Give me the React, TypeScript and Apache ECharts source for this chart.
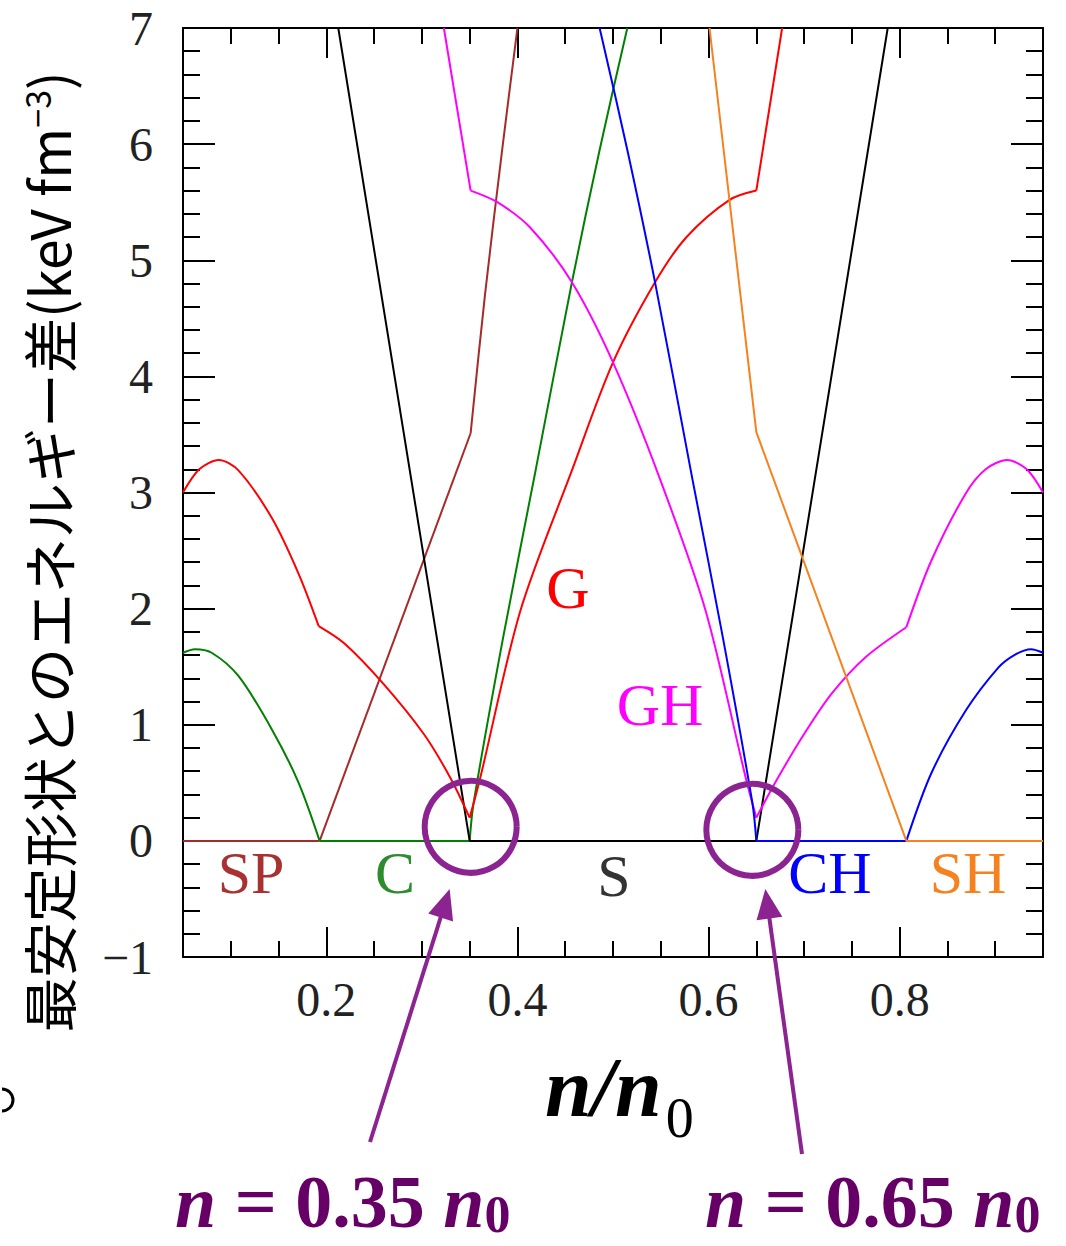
import React, { useEffect, useRef } from "react";
import * as echarts from "echarts";

// ---- data (n/n0, energy difference keV fm^-3) ----
const SP_flat = [[0.05, 0], [0.193, 0]];
const SP_rise = [[0.193, 0], [0.351, 3.51]];
const SP_steep = [[0.351, 3.51], [0.366, 4.7], [0.384, 5.95], [0.4, 7.0]];

const C_left = [[0.05, 1.62], [0.0625, 1.65], [0.08, 1.62], [0.108, 1.42], [0.143, 0.96], [0.171, 0.5], [0.193, 0]];
const C_flat = [[0.193, 0], [0.35, 0]];
const C_right = [[0.35, 0], [0.354, 0.32], [0.385, 1.75], [0.419, 3.19], [0.457, 4.81], [0.486, 5.95], [0.515, 7.0]];

const S_line = [[0.2125, 7.0], [0.35, 0], [0.65, 0], [0.7875, 7.0]];

const G_1 = [[0.05, 3.0], [0.067, 3.2], [0.0875, 3.28], [0.108, 3.19], [0.143, 2.78], [0.171, 2.3], [0.192, 1.85]];
const G_2 = [[0.192, 1.85], [0.219, 1.7], [0.26, 1.35], [0.302, 0.92], [0.33, 0.54], [0.35, 0.2]];
const G_3 = [[0.35, 0.2], [0.361, 0.54], [0.403, 1.98], [0.457, 3.19], [0.5, 4.12], [0.544, 4.81], [0.577, 5.2], [0.622, 5.52], [0.65, 5.6]];
const G_4 = [[0.65, 5.6], [0.677, 7.0]];

const GH_1 = [[0.323, 7.0], [0.351, 5.6]];
const GH_2 = [[0.351, 5.6], [0.379, 5.5], [0.4135, 5.28], [0.457, 4.81], [0.5, 4.12], [0.549, 3.12], [0.597, 1.98], [0.639, 0.54], [0.65, 0.2]];
const GH_3 = [[0.65, 0.2], [0.671, 0.52], [0.7, 0.92], [0.729, 1.27], [0.764, 1.58], [0.807, 1.84]];
const GH_4 = [[0.807, 1.84], [0.833, 2.41], [0.869, 2.99], [0.89, 3.2], [0.9125, 3.28], [0.933, 3.2], [0.95, 3.0]];

const CH_left = [[0.486, 7.0], [0.515, 5.95], [0.544, 4.81], [0.583, 3.12], [0.615, 1.75], [0.646, 0.32], [0.65, 0]];
const CH_flat = [[0.65, 0], [0.807, 0]];
const CH_right = [[0.807, 0], [0.833, 0.58], [0.869, 1.12], [0.903, 1.49], [0.92, 1.6], [0.9375, 1.65], [0.95, 1.62]];

const SH_line = [[0.601, 7.0], [0.65, 3.52], [0.807, 0], [0.95, 0]];

const X_MIN = 0.05;
const X_MAX = 0.95;
const Y_MIN = -1;
const Y_MAX = 7;

const COL = {
  SP: "#a52a2a",
  C: "#008000",
  S: "#000000",
  G: "#ff0000",
  GH: "#ff00ff",
  CH: "#0000ff",
  SH: "#f5821f",
};

const PURPLE = "#8b2391";
const PURPLE_TEXT = "#660066";

function seg(name: string, data: number[][], color: string, smooth: boolean) {
  return {
    name,
    type: "line",
    data,
    showSymbol: false,
    symbol: "none",
    smooth: smooth ? 0.3 : false,
    lineStyle: { color, width: 2 },
    silent: true,
    z: 3,
  };
}

const tickLabel = {
  fontFamily: "Liberation Serif",
  fontSize: 48,
  color: "#222",
};

function xAxisDef(pos: "bottom" | "top") {
  return {
    type: "value",
    position: pos,
    min: X_MIN,
    max: X_MAX,
    splitNumber: 5,
    axisLine: { show: true, onZero: false, lineStyle: { color: "#000", width: 2 } },
    axisTick: { show: true, inside: true, length: 30, lineStyle: { color: "#000", width: 2 } },
    minorTick: { show: true, splitNumber: 4, length: 16, lineStyle: { color: "#000", width: 2 } },
    splitLine: { show: false },
    minorSplitLine: { show: false },
    axisLabel: {
      show: pos === "bottom",
      showMinLabel: false,
      showMaxLabel: false,
      margin: 18,
      formatter: (v: number) => v.toFixed(1),
      ...tickLabel,
    },
  };
}

function yAxisDef(pos: "left" | "right") {
  return {
    type: "value",
    position: pos,
    min: Y_MIN,
    max: Y_MAX,
    interval: 1,
    axisLine: { show: true, onZero: false, lineStyle: { color: "#000", width: 2 } },
    axisTick: { show: true, inside: true, length: 32, lineStyle: { color: "#000", width: 2 } },
    minorTick: { show: true, splitNumber: 5, length: 17, lineStyle: { color: "#000", width: 2 } },
    splitLine: { show: false },
    minorSplitLine: { show: false },
    axisLabel: {
      show: pos === "left",
      margin: 30,
      formatter: (v: number) => (v < 0 ? "\u2212" + Math.abs(v) : String(v)),
      ...tickLabel,
    },
  };
}

function arrow(tail: number[], tip: number[]) {
  const dx = tip[0] - tail[0];
  const dy = tip[1] - tail[1];
  const len = Math.sqrt(dx * dx + dy * dy);
  const ux = dx / len;
  const uy = dy / len;
  const L = 30;
  const W = 13;
  const bx = tip[0] - ux * L;
  const by = tip[1] - uy * L;
  return [
    {
      type: "line",
      shape: { x1: tail[0], y1: tail[1], x2: bx + ux * 4, y2: by + uy * 4 },
      style: { stroke: PURPLE, lineWidth: 4 },
      z: 20,
    },
    {
      type: "polygon",
      shape: {
        points: [
          [tip[0], tip[1]],
          [bx - uy * W, by + ux * W],
          [bx + uy * W, by - ux * W],
        ],
      },
      style: { fill: PURPLE },
      z: 20,
    },
  ];
}

function label(text: string, x: number, y: number, color: string) {
  return {
    type: "text",
    x,
    y,
    style: {
      text,
      fill: color,
      font: "60px 'Liberation Serif'",
      align: "center",
      verticalAlign: "middle",
    },
    z: 10,
  };
}

function measure(text: string, font: string) {
  const c = document.createElement("canvas");
  const ctx = c.getContext("2d");
  if (!ctx) return text.length * 30;
  ctx.font = font;
  return ctx.measureText(text).width;
}

function densityLabel(x0: number, value: string) {
  const fi = "italic bold 74px 'Liberation Serif'";
  const fb = "bold 74px 'Liberation Serif'";
  const fs = "bold 52px 'Liberation Serif'";
  const yMain = 1202;
  const ySub = 1214;
  const parts = [
    { t: "n", f: fi, y: yMain },
    { t: " = " + value + " ", f: fb, y: yMain },
    { t: "n", f: fi, y: yMain },
    { t: "0", f: fs, y: ySub },
  ];
  const out: any[] = [];
  let x = x0;
  for (const p of parts) {
    out.push({
      type: "text",
      x,
      y: p.y,
      style: { text: p.t, font: p.f, fill: PURPLE_TEXT, align: "left", verticalAlign: "middle" },
      z: 20,
    });
    x += measure(p.t, p.f);
  }
  return out;
}

export default function App() {
  const ref = useRef<HTMLDivElement>(null);

  useEffect(() => {
    if (!ref.current) return;
    const chart = echarts.init(ref.current, null, { renderer: "svg" });
    const option: any = {
      animation: false,
      backgroundColor: "#ffffff",
      grid: { left: 183, right: 23, top: 28, bottom: 289, containLabel: false },
      xAxis: [xAxisDef("bottom"), xAxisDef("top")],
      yAxis: [yAxisDef("left"), yAxisDef("right")],
      series: [
        seg("SP", SP_flat, COL.SP, false),
        seg("SP", SP_rise, COL.SP, false),
        seg("SP", SP_steep, COL.SP, true),
        seg("C", C_left, COL.C, true),
        seg("C", C_flat, COL.C, false),
        seg("C", C_right, COL.C, true),
        seg("S", S_line, COL.S, false),
        seg("G", G_1, COL.G, true),
        seg("G", G_2, COL.G, true),
        seg("G", G_3, COL.G, true),
        seg("G", G_4, COL.G, false),
        seg("GH", GH_1, COL.GH, false),
        seg("GH", GH_2, COL.GH, true),
        seg("GH", GH_3, COL.GH, true),
        seg("GH", GH_4, COL.GH, true),
        seg("CH", CH_left, COL.CH, true),
        seg("CH", CH_flat, COL.CH, false),
        seg("CH", CH_right, COL.CH, true),
        seg("SH", SH_line, COL.SH, false),
      ],
    };
    chart.setOption(option);

    const c1 = chart.convertToPixel({ gridIndex: 0 }, [0.35, 0]) as number[];
    const c2 = chart.convertToPixel({ gridIndex: 0 }, [0.65, 0]) as number[];

    const graphic: any[] = [
      // y axis title
      {
        type: "text",
        x: 47,
        y: 552,
        rotation: Math.PI / 2,
        style: {
          text: "最安定形状とのエネルギー差(keV fm{sup|\u22123})",
          font: "55px 'Noto Sans CJK JP'",
          fill: "#000",
          align: "center",
          verticalAlign: "middle",
          rich: {
            sup: { fontSize: 34, fontFamily: "Noto Sans CJK JP", verticalAlign: "top", fill: "#000" },
          },
        },
      },
      // x axis title
      {
        type: "text",
        x: 545,
        y: 1087,
        style: { text: "n/n", font: "italic bold 84px 'Liberation Serif'", fill: "#000", align: "left", verticalAlign: "middle" },
      },
      {
        type: "text",
        x: 545 + measure("n/n", "italic bold 84px 'Liberation Serif'") + 4,
        y: 1118,
        style: { text: "0", font: "56px 'Liberation Serif'", fill: "#000", align: "left", verticalAlign: "middle" },
      },
      // region labels
      label("SP", 251, 873, "#a83232"),
      label("C", 395, 873, "#2e8b2e"),
      label("S", 614, 876, "#333333"),
      label("CH", 830, 873, "#0000ff"),
      label("SH", 968, 873, "#f5821f"),
      label("G", 568, 588, "#ff0000"),
      label("GH", 660, 705, "#ff00ff"),
      // circles
      {
        type: "circle",
        shape: { cx: c1[0] + 1, cy: c1[1] - 14, r: 46 },
        style: { fill: "none", stroke: PURPLE, lineWidth: 6 },
        z: 20,
      },
      {
        type: "circle",
        shape: { cx: c2[0] - 4, cy: c2[1] - 11, r: 46 },
        style: { fill: "none", stroke: PURPLE, lineWidth: 6 },
        z: 20,
      },
      ...arrow([370, 1142], [c1[0] - 20, c1[1] + 48]),
      ...arrow([802, 1154], [c2[0] + 9, c2[1] + 48]),
      ...densityLabel(175, "0.35"),
      ...densityLabel(705, "0.65"),
      // fragment at left edge
      {
        type: "arc",
        shape: { cx: 2, cy: 1100, r: 11, startAngle: -Math.PI / 2, endAngle: Math.PI / 2 },
        style: { stroke: "#000", lineWidth: 3, fill: "none" },
      },
    ];
    chart.setOption({ graphic });

    return () => chart.dispose();
  }, []);

  return (
    <div
      ref={ref}
      style={{ position: "fixed", left: 0, top: 0, width: 1066, height: 1246, background: "#fff" }}
    />
  );
}
